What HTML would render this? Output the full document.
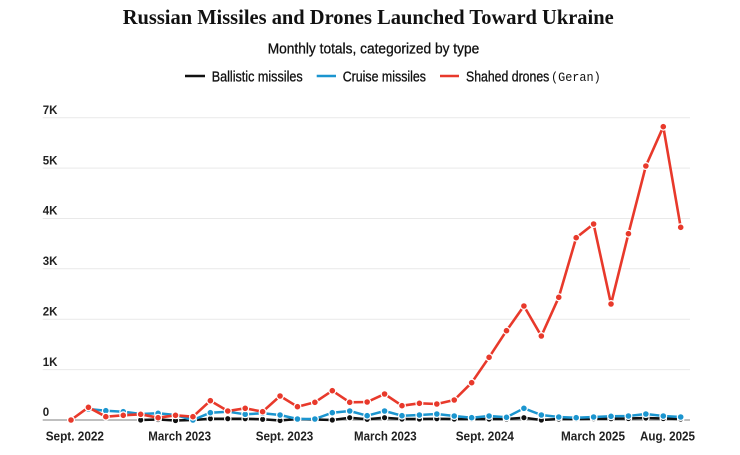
<!DOCTYPE html>
<html>
<head>
<meta charset="utf-8">
<style>
  html, body { margin:0; padding:0; background:#fff; }
  svg { display:block; }
</style>
</head>
<body>
<svg width="740" height="455" viewBox="0 0 740 455" xmlns="http://www.w3.org/2000/svg">
  <defs>
    <marker id="mr" markerWidth="10" markerHeight="10" refX="5" refY="5" markerUnits="userSpaceOnUse">
      <circle cx="5" cy="5" r="3.4" fill="#e8392b" stroke="#fff" stroke-width="1.2"/>
    </marker>
    <marker id="mb" markerWidth="10" markerHeight="10" refX="5" refY="5" markerUnits="userSpaceOnUse">
      <circle cx="5" cy="5" r="3.4" fill="#1b95cf" stroke="#fff" stroke-width="1.2"/>
    </marker>
    <marker id="mk" markerWidth="10" markerHeight="10" refX="5" refY="5" markerUnits="userSpaceOnUse">
      <circle cx="5" cy="5" r="3.2" fill="#111" stroke="#fff" stroke-width="1.2"/>
    </marker>
  </defs>
  <rect width="740" height="455" fill="#fff"/>

  <!-- Title -->
  <text x="122.7" y="24" font-family="'Liberation Serif', serif" font-weight="bold" font-size="21" fill="#111" textLength="491" lengthAdjust="spacingAndGlyphs">Russian Missiles and Drones Launched Toward Ukraine</text>
  <!-- Subtitle -->
  <text x="267.7" y="53.5" font-family="'Liberation Sans', sans-serif" font-size="15" fill="#111" stroke="#111" stroke-width="0.3" textLength="211.6" lengthAdjust="spacingAndGlyphs">Monthly totals, categorized by type</text>

  <!-- Legend -->
  <line x1="185" y1="76" x2="205" y2="76" stroke="#111" stroke-width="2.5"/>
  <text x="211.7" y="81.3" font-family="'Liberation Sans', sans-serif" font-size="14.5" fill="#111" stroke="#111" stroke-width="0.3" textLength="91" lengthAdjust="spacingAndGlyphs">Ballistic missiles</text>
  <line x1="316.7" y1="76" x2="336" y2="76" stroke="#1b95cf" stroke-width="2.5"/>
  <text x="342.7" y="81.3" font-family="'Liberation Sans', sans-serif" font-size="14.5" fill="#111" stroke="#111" stroke-width="0.3" textLength="83.3" lengthAdjust="spacingAndGlyphs">Cruise missiles</text>
  <line x1="440" y1="76" x2="459" y2="76" stroke="#e8392b" stroke-width="2.5"/>
  <text x="466" y="81.3" font-family="'Liberation Sans', sans-serif" font-size="14.5" fill="#111" stroke="#111" stroke-width="0.3" textLength="83.3" lengthAdjust="spacingAndGlyphs">Shahed drones</text>
  <text x="551" y="81" font-family="'Liberation Mono', monospace" font-size="13" fill="#111" textLength="49.7" lengthAdjust="spacingAndGlyphs">(Geran)</text>

  <!-- Gridlines -->
  <g stroke="#e9e9e9" stroke-width="1">
    <line x1="42.7" y1="117.7" x2="690" y2="117.7"/>
    <line x1="42.7" y1="168.1" x2="690" y2="168.1"/>
    <line x1="42.7" y1="218.5" x2="690" y2="218.5"/>
    <line x1="42.7" y1="268.8" x2="690" y2="268.8"/>
    <line x1="42.7" y1="319.2" x2="690" y2="319.2"/>
    <line x1="42.7" y1="369.6" x2="690" y2="369.6"/>
  </g>
  <line x1="42.7" y1="420" x2="690" y2="420" stroke="#999" stroke-width="1.2"/>

  <!-- Y labels -->
  <g font-family="'Liberation Sans', sans-serif" font-weight="bold" font-size="11.5" fill="#222">
    <text x="42.7" y="113.9">7K</text>
    <text x="42.7" y="164.3">5K</text>
    <text x="42.7" y="214.7">4K</text>
    <text x="42.7" y="265">3K</text>
    <text x="42.7" y="315.4">2K</text>
    <text x="42.7" y="365.8">1K</text>
    <text x="42.7" y="415.9">0</text>
  </g>

  <!-- X labels -->
  <g font-family="'Liberation Sans', sans-serif" font-weight="bold" font-size="12.5" fill="#222">
    <text x="45.7" y="440.7" textLength="58.3" lengthAdjust="spacingAndGlyphs">Sept. 2022</text>
    <text x="148.3" y="440.7" textLength="62.7" lengthAdjust="spacingAndGlyphs">March 2023</text>
    <text x="255.7" y="440.7" textLength="57.6" lengthAdjust="spacingAndGlyphs">Sept. 2023</text>
    <text x="354" y="440.7" textLength="62.7" lengthAdjust="spacingAndGlyphs">March 2023</text>
    <text x="455.7" y="440.7" textLength="58.3" lengthAdjust="spacingAndGlyphs">Sept. 2024</text>
    <text x="561" y="440.7" textLength="64" lengthAdjust="spacingAndGlyphs">March 2025</text>
    <text x="640" y="440.7" textLength="55" lengthAdjust="spacingAndGlyphs">Aug. 2025</text>
  </g>

  <!-- Ballistic (black) -->
  <polyline fill="none" stroke="#111" stroke-width="2.5" stroke-linejoin="round"
    marker-start="url(#mk)" marker-mid="url(#mk)" marker-end="url(#mk)"
    points="140.68,420 158.10,419.5 175.52,420.5 192.94,420 210.36,418.7 227.78,418.7 245.20,418.7 262.62,419.3 280.04,420.5 297.46,419 314.88,419.5 332.30,420 349.72,417.7 367.14,419.3 384.56,417.7 401.98,419 419.40,419 436.82,418.7 454.24,419 471.66,419 489.08,419 506.50,419 523.92,417.7 541.34,420 558.76,419 576.18,419 593.60,418.7 611.02,418.7 628.44,418.5 645.86,418 663.28,418.5 680.70,419"/>

  <!-- Cruise (blue) -->
  <polyline fill="none" stroke="#1b95cf" stroke-width="2.5" stroke-linejoin="round"
    marker-start="url(#mb)" marker-mid="url(#mb)" marker-end="url(#mb)"
    points="88.42,409 105.84,410.7 123.26,411.7 140.68,414 158.10,413.3 175.52,415 192.94,420 210.36,412.7 227.78,411.7 245.20,414.3 262.62,413.3 280.04,415 297.46,419 314.88,419 332.30,412.7 349.72,411 367.14,415.7 384.56,411 401.98,415.7 419.40,415 436.82,414 454.24,416 471.66,417.7 489.08,416 506.50,417.3 523.92,408.3 541.34,415 558.76,417 576.18,417.7 593.60,417 611.02,416.3 628.44,416 645.86,414 663.28,416 680.70,417"/>

  <!-- Shahed (red) -->
  <polyline fill="none" stroke="#e8392b" stroke-width="2.6" stroke-linejoin="round"
    marker-start="url(#mr)" marker-mid="url(#mr)" marker-end="url(#mr)"
    points="71.00,420 88.42,407.3 105.84,416.7 123.26,415.3 140.68,414.3 158.10,417.7 175.52,415.3 192.94,416.7 210.36,400.7 227.78,411 245.20,408.3 262.62,411.7 280.04,396 297.46,406.7 314.88,402.3 332.30,390.7 349.72,402.3 367.14,402 384.56,394 401.98,405.7 419.40,403.3 436.82,404 454.24,400 471.66,382.7 489.08,357.3 506.50,330.7 523.92,306 541.34,336 558.76,297.3 576.18,237.7 593.60,224 611.02,304 628.44,233.7 645.86,166 663.28,126.7 680.70,227.3"/>
</svg>
</body>
</html>
